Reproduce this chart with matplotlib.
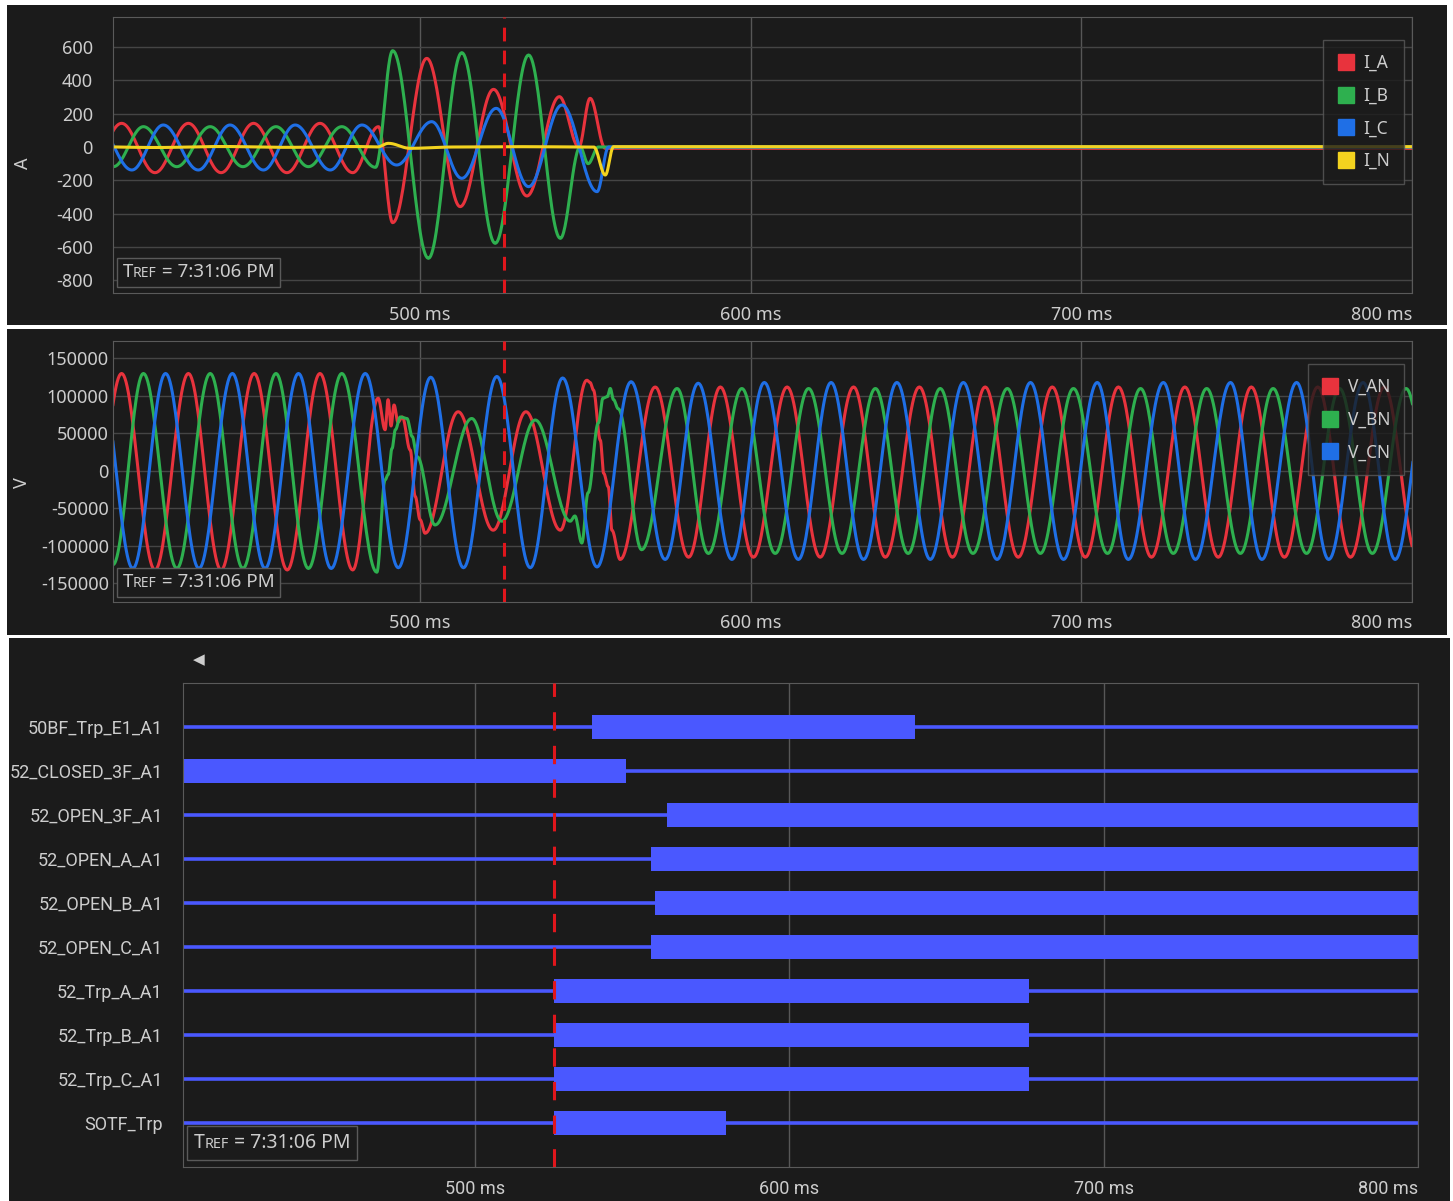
import numpy as np
import matplotlib
matplotlib.use('Agg')
import matplotlib.pyplot as plt
from matplotlib.lines import Line2D
from matplotlib.patches import Rectangle
from matplotlib.offsetbox import TextArea, HPacker, AnchoredOffsetbox

plt.rcParams['font.family'] = ['Noto Sans', 'DejaVu Sans']
plt.rcParams['axes.unicode_minus'] = False

# ---- analog currents (A): extrema, time in ms ----
IA_T = [399.7, 409.7, 419.8, 429.9, 439.8, 449.6, 459.7, 469.7, 479.6, 487.4,
        491.7, 502.0, 512.1, 522.2, 532.3, 542.1, 548.0, 551.4, 556.0, 800.0]
IA_V = [-150, 142, -154, 142, -154, 142, -154, 142, -154, 122,
        -454, 532, -358, 346, -294, 302, 0, 292, -8, -8]
IB_T = [396.3, 407.2, 416.3, 426.4, 436.5, 446.4, 456.4, 466.2, 476.3, 486.5,
        491.7, 502.5, 512.6, 522.7, 532.8, 542.4, 548.4, 550.8, 553.9, 800.0]
IB_V = [122, -118, 122, -118, 122, -118, 122, -118, 122, -122,
        578, -668, 566, -578, 552, -548, 0, -100, 0, 0]
IC_T = [402.3, 412.8, 422.3, 432.9, 442.5, 452.6, 462.2, 472.8, 482.4, 492.9,
        503.5, 512.6, 523.0, 532.8, 542.9, 553.5, 557.0, 800.0]
IC_V = [132, -138, 132, -138, 132, -138, 132, -138, 132, -108,
        152, -188, 232, -238, 252, -268, 0, 0]
IN_T = [400.0, 420.0, 440.0, 460.0, 480.0, 487.0, 490.4, 497.0, 510.0, 530.0,
        552.5, 556.0, 558.5, 800.0]
IN_V = [2, -3, 3, -2, 3, 0, 22, -8, 0, 2, 0, -168, 2, 2]

# ---- analog voltages (V) ----
VA_T = [399.7, 409.7, 419.8, 429.9, 439.8, 449.8, 459.8, 469.7, 479.6, 487.3,
        489.4, 490.3, 491.2, 492.1, 493.3, 494.6, 497.0, 498.5, 500.0, 501.5,
        511.5, 522.1, 532.0, 542.4, 550.4, 551.4, 552.4, 554.5, 555.5, 556.9,
        558.0, 560.5, 571.1, 581.2, 590.8, 600.8, 611.0, 621.0, 631.1, 640.7,
        651.0, 661.0, 670.9, 680.9, 691.2, 701.2, 711.2, 721.2, 731.3, 741.4,
        751.4, 761.4, 771.5, 781.4, 791.6, 801.7]
VA_V = [-130000, 130000, -132000, 130000, -132000, 130000, -132000, 130000, -132000, 97000,
        55000, 95000, 60000, 88000, 65000, 72000, 28000, -34000, -65000, -83000,
        79000, -79000, 79000, -79000, 121000, 118000, 108000, 41000, -3000, -21000,
        -79000, -118000, 112000, -115000, 112000, -115000, 112000, -115000, 112000, -115000,
        112000, -115000, 112000, -115000, 112000, -115000, 112000, -115000, 112000, -115000,
        112000, -115000, 112000, -115000, 112000, -115000]
VB_T = [396.3, 407.1, 416.3, 426.4, 436.5, 446.4, 456.4, 466.2, 476.3, 486.9,
        489.4, 490.3, 491.5, 492.5, 494.0, 496.0, 497.6, 499.1, 504.5, 515.6,
        524.7, 534.8, 545.4, 546.8, 548.9, 550.8, 553.9, 555.3, 556.6, 557.5,
        558.5, 559.9, 567.0, 577.7, 587.2, 597.3, 607.4, 617.5, 627.6, 637.7,
        647.6, 657.3, 667.2, 677.6, 687.6, 697.6, 707.9, 717.9, 727.8, 737.9,
        748.1, 758.0, 768.1, 778.1, 788.0, 798.2, 808.0]
VB_V = [125000, -125000, 130000, -130000, 130000, -130000, 130000, -130000, 130000, -135000,
        -12000, -5000, 30000, 55000, 72000, 70000, 46000, 19000, -72000, 70000,
        -67000, 68000, -67000, -60000, -96000, -29000, 64000, 97000, 99000, 110000,
        95000, 83000, -105000, 110000, -110000, 110000, -110000, 110000, -110000, 110000,
        -110000, 110000, -110000, 110000, -110000, 110000, -110000, 110000, -110000, 110000,
        -110000, 110000, -110000, 110000, -110000, 110000, -110000]
VC_T = [403.0, 413.1, 423.0, 433.1, 443.2, 453.1, 463.2, 473.1, 483.4, 493.4,
        503.2, 513.1, 523.2, 533.3, 543.1, 553.5, 563.8, 574.1, 584.1, 594.3,
        604.1, 614.4, 624.3, 634.1, 644.2, 654.3, 664.3, 674.5, 684.6, 694.6,
        704.8, 714.2, 724.8, 734.5, 745.1, 754.6, 765.1, 774.8, 785.2, 794.9,
        805.0]
VC_V = [130000, -130000, 130000, -130000, 130000, -130000, 130000, -130000, 130000, -129000,
        125000, -129000, 126000, -129000, 124000, -128000, 119000, -118000, 117000, -118000,
        118000, -118000, 118000, -118000, 118000, -118000, 118000, -118000, 118000, -118000,
        118000, -118000, 118000, -118000, 118000, -118000, 118000, -118000, 118000, -118000,
        118000]

# ---- digital channels: asserted interval (ms) ----
DIG_NAMES = ['50BF_Trp_E1_A1', '52_CLOSED_3F_A1', '52_OPEN_3F_A1', '52_OPEN_A_A1',
             '52_OPEN_B_A1', '52_OPEN_C_A1', '52_Trp_A_A1', '52_Trp_B_A1',
             '52_Trp_C_A1', 'SOTF_Trp']
DIG_ON = [537.3, 407.0, 561.1, 556.1, 557.3, 556.1, 525.2, 525.2, 525.2, 525.2]
DIG_OFF = [640.1, 548.1, 800.0, 800.0, 800.0, 800.0, 676.1, 676.1, 676.1, 579.9]

TIME_TICKS = [500, 600, 700, 800]
TIME_LABELS = ['500 ms', '600 ms', '700 ms', '800 ms']
I_TICKS = [-800, -600, -400, -200, 0, 200, 400, 600]
V_TICKS = [-150000, -100000, -50000, 0, 50000, 100000, 150000]
CURSOR = 525.3
T_START, T_END = 407.1, 800.0

BG = '#1b1b1b'
TXT = '#cdcdcd'
HGRID = '#454545'
VGRID = '#575757'
EDGE = '#5a5a5a'
RED, GREEN, BLUE, YELLOW = '#e8333d', '#2eb04f', '#1f6fe6', '#f3d31f'
BAR = '#4a58ff'

W, H = 1453, 1201
fig = plt.figure(figsize=(W / 100, H / 100), dpi=100, facecolor='white')


def px_axes(x0, y0, x1, y1):
    return fig.add_axes([x0 / W, 1 - y1 / H, (x1 - x0) / W, (y1 - y0) / H])


def panel(x0, y0, x1, y1):
    fig.add_artist(Rectangle((x0 / W, 1 - y1 / H), (x1 - x0) / W, (y1 - y0) / H,
                             transform=fig.transFigure, facecolor=BG,
                             edgecolor='none', zorder=-10))


def smooth(tk, vk, n=30):
    # half-cosine between consecutive extrema
    tk = np.asarray(tk, float)
    vk = np.asarray(vk, float)
    s = np.linspace(0, 1, n, endpoint=False)
    w = (1 - np.cos(np.pi * s)) / 2
    t = (tk[:-1, None] + np.diff(tk)[:, None] * s).ravel()
    v = (vk[:-1, None] + np.diff(vk)[:, None] * w).ravel()
    return np.append(t, tk[-1]), np.append(v, vk[-1])


def tref_box(ax, size, anchor, pad):
    parts = [TextArea('T', textprops=dict(color=TXT, size=size)),
             TextArea('REF', textprops=dict(color=TXT, size=size * 0.74)),
             TextArea(' = 7:31:06 PM', textprops=dict(color=TXT, size=size))]
    box = HPacker(children=parts, align='baseline', pad=0, sep=0)
    ab = AnchoredOffsetbox(loc='lower left', child=box, pad=pad, borderpad=0,
                           frameon=True, bbox_to_anchor=anchor,
                           bbox_transform=ax.transAxes)
    ab.patch.set_facecolor(BG)
    ab.patch.set_edgecolor(EDGE)
    ab.patch.set_boxstyle('square', pad=0)
    ab.set_zorder(5)
    ax.add_artist(ab)


def style_axes(ax, ypad):
    ax.set_facecolor(BG)
    ax.set_axisbelow(True)
    for sp in ax.spines.values():
        sp.set_color(EDGE)
    ax.tick_params(length=0, colors=TXT, labelsize=13)
    ax.tick_params(axis='y', pad=ypad)
    ax.tick_params(axis='x', pad=9)
    ax.set_xlim(T_START, T_END)
    ax.set_xticks(TIME_TICKS)
    ax.set_xticklabels(TIME_LABELS)
    ax.get_xticklabels()[-1].set_horizontalalignment('right')
    ax.grid(axis='x', color=VGRID, lw=1)


def phase_legend(ax, labels, colors, anchor):
    handles = [Line2D([], [], ls='none', marker='s', ms=11, mfc=c, mec=c) for c in colors]
    leg = ax.legend(handles, labels, loc='upper right', bbox_to_anchor=anchor,
                    fontsize=12.5, labelcolor=TXT, handlelength=1.0, handletextpad=0.5,
                    borderpad=0.8, labelspacing=0.85, borderaxespad=0, fancybox=False)
    fr = leg.get_frame()
    fr.set_facecolor(BG)
    fr.set_edgecolor(EDGE)
    fr.set_alpha(0.8)


# ---------------- currents ----------------
panel(7, 5, 1447, 325)
ax1 = px_axes(113, 17, 1412, 293)
style_axes(ax1, 14.5)
ax1.set_ylim(-876, 780)
ax1.set_yticks(I_TICKS)
ax1.grid(axis='y', color=HGRID, lw=1)
for tk, vk, c in [(IA_T, IA_V, RED), (IB_T, IB_V, GREEN), (IC_T, IC_V, BLUE), (IN_T, IN_V, YELLOW)]:
    ax1.plot(*smooth(tk, vk), color=c, lw=2.2, solid_capstyle='round')
ax1.axvline(CURSOR, color='#e0161c', lw=2.2, ls=(0, (4.5, 3)), zorder=4)
phase_legend(ax1, ['I_A', 'I_B', 'I_C', 'I_N'], [RED, GREEN, BLUE, YELLOW], (0.9938, 0.9167))
tref_box(ax1, 13.5, (0.003, 0.022), 0.4)
fig.text(23 / W, 1 - 163 / H, 'A', rotation=90, color=TXT, fontsize=13, ha='center', va='center')

# ---------------- voltages ----------------
panel(7, 329, 1447, 635)
ax2 = px_axes(113, 341, 1412, 602)
style_axes(ax2, 3)
ax2.set_ylim(-174700, 173300)
ax2.set_yticks(V_TICKS)
ax2.grid(axis='y', color=HGRID, lw=1)
for tk, vk, c in [(VA_T, VA_V, RED), (VB_T, VB_V, GREEN), (VC_T, VC_V, BLUE)]:
    ax2.plot(*smooth(tk, vk), color=c, lw=2.2, solid_capstyle='round')
ax2.axvline(CURSOR, color='#e0161c', lw=2.2, ls=(0, (4.5, 3)), zorder=4)
phase_legend(ax2, ['V_AN', 'V_BN', 'V_CN'], [RED, GREEN, BLUE], (0.9938, 0.912))
tref_box(ax2, 13.5, (0.003, 0.019), 0.4)
fig.text(22 / W, 1 - 483 / H, 'V', rotation=90, color=TXT, fontsize=13, ha='center', va='center')

# ---------------- digital channels ----------------
panel(9, 638, 1450, 1201)
ax3 = px_axes(183, 683, 1418, 1167)
style_axes(ax3, 14.5)
narrow = ['Roboto', 'Noto Sans', 'DejaVu Sans']
rows = np.arange(len(DIG_NAMES))
ax3.set_ylim(len(DIG_NAMES), -1)
ax3.set_yticks(rows)
ax3.set_yticklabels(DIG_NAMES)
for lab in ax3.get_yticklabels() + ax3.get_xticklabels():
    lab.set_fontfamily(narrow)
    lab.set_fontsize(13)
ax3.hlines(rows, T_START, T_END, color=BAR, lw=2.6)
ax3.barh(rows, np.array(DIG_OFF) - np.array(DIG_ON), left=DIG_ON, height=0.56, color=BAR)
ax3.axvline(525.2, color='#e0161c', lw=2.2, ls=(0, (6, 5)), zorder=4)
tref_box(ax3, 14, (0.003, 0.0145), 0.5)
fig.text(199 / W, 1 - 660 / H, '\u25c0', color=TXT, fontsize=11, ha='center', va='center',
         family='DejaVu Sans')

fig.savefig('out.png', dpi=100, facecolor='white')
